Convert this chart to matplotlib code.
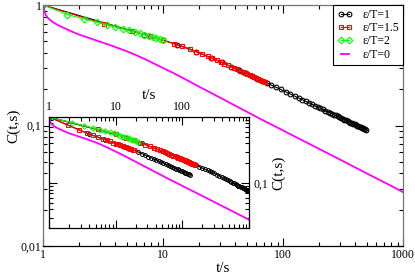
import matplotlib
matplotlib.use('Agg')
import matplotlib.pyplot as plt
from matplotlib.ticker import FixedLocator, FixedFormatter, LogLocator, NullFormatter

plt.rcParams['font.family'] = ['Liberation Serif', 'DejaVu Serif']

# main panel: C(t,s) against t/s
t_e1 = [1, 7, 13, 19, 25, 31, 37, 43, 49, 55, 61, 67, 73, 80, 88, 96,
        105, 115, 125, 135, 145, 155, 165, 175, 185, 195, 205, 215, 225, 235,
        245, 255, 265, 275, 285, 295, 305, 315, 325, 335, 345, 355, 365, 375,
        385, 395, 405, 415, 425, 435, 445, 455, 465, 475, 485, 495]
c_e1 = [1.0, 0.569, 0.470, 0.409, 0.365, 0.334, 0.308, 0.288, 0.271, 0.257, 0.245,
        0.235, 0.226, 0.216, 0.207, 0.199, 0.1905, 0.1824, 0.1754, 0.1692, 0.1637,
        0.1585, 0.1541, 0.1497, 0.1459, 0.1422, 0.1390, 0.1358, 0.1330, 0.1303,
        0.1279, 0.1254, 0.1233, 0.1211, 0.1191, 0.1172, 0.1153, 0.1135, 0.1119,
        0.1104, 0.1089, 0.1074, 0.1059, 0.1047, 0.1035, 0.1021, 0.1009, 0.0998,
        0.0986, 0.0975, 0.0966, 0.0955, 0.0946, 0.0936, 0.0927, 0.0918]

t_e15 = [1, 3.25, 5.5, 7.75, 10, 12.25, 14.5, 16.75, 19, 21.25, 23.5, 25.75, 28,
         30.25, 32.5, 34.75, 37, 39.25, 41.5, 43.75, 46, 48.25, 50.5, 52.75, 55,
         57.25, 59.5, 61.75, 64, 66.25, 68.5, 70.75]
c_e15 = [1.0, 0.695, 0.606, 0.553, 0.511, 0.479, 0.454, 0.4315, 0.409, 0.391, 0.375,
         0.3606, 0.348, 0.337, 0.3268, 0.317, 0.308, 0.300, 0.292, 0.2855, 0.279,
         0.2729, 0.2675, 0.2622, 0.257, 0.2523, 0.2478, 0.2438, 0.2399, 0.2361,
         0.2325, 0.2291]

t_e2 = [1, 1.6, 2.2, 2.8, 3.4, 4.0, 4.6, 5.2, 5.8, 6.4, 7.0, 7.6, 8.2, 8.8, 9.4, 10.0]
c_e2 = [1.0, 0.833, 0.766, 0.721, 0.688, 0.660, 0.636, 0.615, 0.598, 0.582, 0.569,
        0.556, 0.544, 0.532, 0.521, 0.511]

t_e0 = [1, 1.05, 1.1, 1.15, 1.2, 1.3, 1.4, 1.6, 1.8, 2, 2.5, 3, 3.5, 4, 5, 6, 7, 8,
        10, 12, 15, 20, 25, 30, 40, 50, 60, 70, 80, 100, 150, 200, 300, 500, 800, 1000]
c_e0 = [1.0, 0.83, 0.78, 0.75, 0.725, 0.69, 0.665, 0.625, 0.593, 0.568, 0.527, 0.495,
        0.47, 0.448, 0.413, 0.383, 0.357, 0.335, 0.30, 0.275, 0.245, 0.21, 0.187,
        0.17, 0.146, 0.13, 0.118, 0.109, 0.102, 0.091, 0.074, 0.064, 0.052, 0.040,
        0.0315, 0.028]

# inset: upper set
it_e1a = [1, 13, 25, 37, 49, 61, 73, 85, 97, 110, 125, 140, 160, 180, 200, 220, 240,
          260, 280, 300, 330, 360, 390, 420, 450, 480, 510, 540, 570, 600, 630, 660,
          690, 720, 750, 780, 810, 840, 870, 900, 930, 960, 1000]
ic_e1a = [1.0, 0.507, 0.399, 0.341, 0.3048, 0.2793, 0.260, 0.2445, 0.2318, 0.2198,
          0.2076, 0.1976, 0.1863, 0.1770, 0.1689, 0.1620, 0.1559, 0.1505, 0.1457,
          0.1413, 0.1350, 0.1290, 0.1238, 0.1191, 0.1149, 0.1111, 0.1076, 0.1045,
          0.1016, 0.0990, 0.0965, 0.0942, 0.0920, 0.0900, 0.0881, 0.0863, 0.0847,
          0.0831, 0.0816, 0.0801, 0.0788, 0.0775, 0.0759]
it_e15a = [1, 5.5, 10, 14.5, 19, 23.5, 28, 32.5, 37, 41.5, 46, 50.5, 55, 59.5, 64,
           68.5, 73, 77.5, 82, 86.5, 91, 95.5, 100, 104.5, 109, 113.5, 118, 122.5,
           127, 131.5, 136, 140.5, 145, 149.5, 154]
ic_e15a = [1.0, 0.6496, 0.556, 0.488, 0.444, 0.409, 0.381, 0.359, 0.341, 0.3257,
           0.3124, 0.301, 0.291, 0.2818, 0.2739, 0.2665, 0.260, 0.2538, 0.248,
           0.2427, 0.2378, 0.2333, 0.2291, 0.2247, 0.2207, 0.2167, 0.2130, 0.2096,
           0.2062, 0.2031, 0.2000, 0.1972, 0.1946, 0.1919, 0.1894]
it_e2a = [1, 2.2, 3.4, 4.6, 5.8, 7, 8.2, 9.4, 10.6, 11.8, 13, 14.2, 15.4, 16.6, 17.8,
          19, 20.2, 21.4]
ic_e2a = [1.0, 0.821, 0.736, 0.680, 0.640, 0.610, 0.585, 0.565, 0.545, 0.525, 0.507,
          0.492, 0.478, 0.466, 0.4545, 0.444, 0.4345, 0.4246]

# inset: lower set
it_e1b = [1, 4, 7, 10, 13, 16, 19, 22, 25, 28, 31, 34, 37, 40, 44, 48, 52, 56, 60,
          65, 70, 75, 80, 85, 90, 95, 100, 105, 110, 115, 120, 125, 129]
ic_e1b = [1.0, 0.5523, 0.4519, 0.3974, 0.3617, 0.3357, 0.3134, 0.2939, 0.2779,
          0.2644, 0.2529, 0.2427, 0.2339, 0.2259, 0.2166, 0.2085, 0.2013, 0.1949,
          0.1890, 0.1824, 0.1766, 0.1713, 0.1665, 0.1622, 0.1582, 0.1543, 0.1510,
          0.1478, 0.1448, 0.1419, 0.1393, 0.1368, 0.1350]
it_e15b = [1, 1.9, 2.8, 3.7, 4.6, 5.5, 6.4, 7.3, 8.2, 9.1, 10, 10.9, 11.8, 12.7, 13.6,
           14.5, 15.4, 16.3, 17.2, 18.1, 19]
ic_e15b = [1.0, 0.756, 0.639, 0.568, 0.5253, 0.4927, 0.4665, 0.4451, 0.4267, 0.4111,
           0.3974, 0.3855, 0.3745, 0.3648, 0.3560, 0.3479, 0.3404, 0.3335, 0.3271,
           0.3202, 0.3134]

BLACK = 'black'
RED = '#ff0000'
GREEN = '#00ff00'
MAGENTA = '#ff00ff'

def log_axes(a):
    a.set_xscale('log')
    a.set_yscale('log')
    a.xaxis.set_minor_locator(LogLocator(base=10, subs=range(2, 10)))
    a.yaxis.set_minor_locator(LogLocator(base=10, subs=range(2, 10)))
    a.xaxis.set_minor_formatter(NullFormatter())
    a.yaxis.set_minor_formatter(NullFormatter())
    a.tick_params(which='both', direction='in', top=True, right=True,
                  bottom=True, left=True, width=0.8, labelsize=8.5)
    a.tick_params(which='major', length=5.8)
    a.tick_params(which='minor', length=2.9)
    for s in a.spines.values():
        s.set_linewidth(0.9)

fig = plt.figure(figsize=(4.15, 2.74), dpi=100)

ax = fig.add_axes([43 / 415, 28 / 274, 360 / 415, 241 / 274])
log_axes(ax)
# the thin outer frame reads grey in the original, the x axis line black
for side in ('left', 'top', 'right'):
    ax.spines[side].set_color('0.45')
sty = dict(lw=0.8, ms=3.4, mew=0.8, mfc='none')
ax.plot(t_e1, c_e1, color=BLACK, marker='o', label='ε/T=1', **sty)
ax.plot(t_e15, c_e15, color=RED, marker='s', label='ε/T=1.5', **sty)
ax.plot(t_e2, c_e2, color=GREEN, marker='D', label='ε/T=2', **sty)
ax.plot(t_e0, c_e0, color=MAGENTA, lw=1.3, label='ε/T=0')
ax.set_xlim(1, 1000)
ax.set_ylim(0.01, 1)
ax.xaxis.set_major_locator(FixedLocator([1, 10, 100, 1000]))
ax.xaxis.set_major_formatter(FixedFormatter(['1', '10', '100', '1000']))
ax.yaxis.set_major_locator(FixedLocator([0.01, 0.1, 1]))
ax.yaxis.set_major_formatter(FixedFormatter(['0,01', '0,1', '1']))
ax.tick_params(axis='x', pad=2)
ax.tick_params(axis='y', pad=1)
ax.set_xlabel('t/s', fontsize=11, labelpad=1)
ax.set_ylabel('C(t,s)', fontsize=11, labelpad=0)

leg = ax.legend(loc='upper right', borderaxespad=0, fontsize=8.5, frameon=True,
                fancybox=False, edgecolor='black', framealpha=1, numpoints=2,
                handlelength=1.3, handletextpad=0.8, labelspacing=0.1,
                borderpad=0.35)
leg.get_frame().set_linewidth(0.8)

# inset
ins = fig.add_axes([49 / 415, 46 / 274, 200 / 415, 111 / 274])
log_axes(ins)
isty = dict(lw=0.8, ms=2.8, mew=0.7, mfc='none')
ins.plot(it_e1b, ic_e1b, color=BLACK, marker='o', **isty)
ins.plot(it_e1a, ic_e1a, color=BLACK, marker='o', **isty)
ins.plot(it_e15b, ic_e15b, color=RED, marker='s', **isty)
ins.plot(it_e15a, ic_e15a, color=RED, marker='s', **isty)
ins.plot(it_e2a, ic_e2a, color=GREEN, marker='D', **isty)
ins.plot(t_e0, c_e0, color=MAGENTA, lw=1.3)
ins.set_xlim(1, 1000)
ins.set_ylim(0.021, 1)
ins.xaxis.set_major_locator(FixedLocator([1, 10, 100, 1000]))
ins.xaxis.set_major_formatter(FixedFormatter(['1', '10', '100', '']))
ins.yaxis.set_major_locator(FixedLocator([0.1]))
ins.yaxis.set_major_formatter(FixedFormatter(['0,1']))
ins.tick_params(labeltop=True, labelbottom=False, labelright=True, labelleft=False)
ins.tick_params(axis='x', pad=3)
ins.tick_params(axis='y', pad=3)
ins.xaxis.set_label_position('top')
ins.yaxis.set_label_position('right')
ins.set_xlabel('t/s', fontsize=11, labelpad=1)
ins.set_ylabel('C(t,s)', fontsize=11, labelpad=3)

fig.savefig('out.png', dpi=100)
